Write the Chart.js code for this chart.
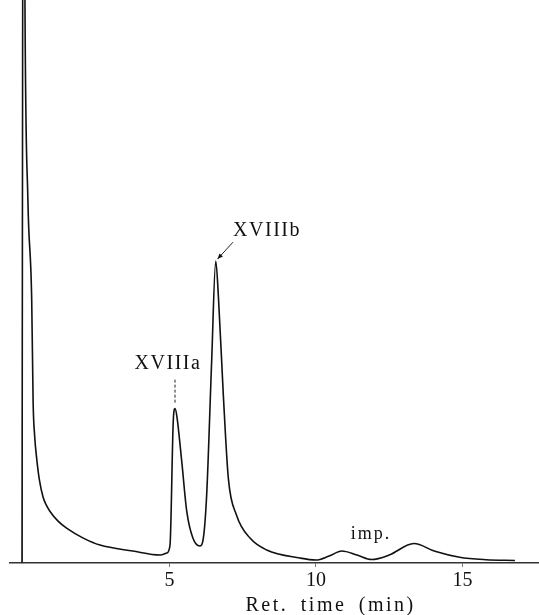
<!DOCTYPE html>
<html>
<head>
<meta charset="utf-8">
<script src="https://cdn.jsdelivr.net/npm/chart.js@4/dist/chart.umd.min.js"></script>
<style>
  body { margin: 0; background: #fff; }
  #wrap { width: 539px; height: 615px; }
</style>
</head>
<body>
<div id="wrap"><canvas id="myChart"></canvas></div>
<script>
// retention time (min) and detector signal
const retTime = [-0.03, 0.02, 0.07, 0.17, 0.30, 0.35, 0.40, 0.47, 0.56, 0.69, 0.80, 0.92, 1.20, 1.49, 2.06, 2.63, 3.75, 4.68,
  4.91, 5.02, 5.13, 5.19, 5.25, 5.42, 5.59, 5.80, 6.04, 6.14, 6.27, 6.44, 6.58, 6.67, 6.84,
  7.01, 7.29, 7.75, 8.32, 9.45, 10.0, 10.45, 10.88, 11.4, 11.9, 12.5, 13.34, 14.06, 14.9, 15.8, 16.79];
const signal = [0, 1000, 565, 365, 265, 160, 128, 105, 84, 66, 58, 52, 42, 35, 25, 18, 12, 8,
  10, 18, 142, 155, 148, 102, 52, 25, 17, 22, 68, 202, 303, 268, 168,
  85, 48, 25, 13, 5, 3, 7, 12, 8, 3.5, 8, 19.5, 11.7, 5.7, 3.3, 2.5];
const tickValues = [5, 10, 15];

// peak labels
const peakNames = ["XVIIIa", "XVIIIb", "imp."];
const peakNameTimes = [4.95, 8.33, 11.88];
const peakNameLevels = [200, 333, 29];

const points = retTime.map((t, i) => ({ x: t, y: signal[i] }));

const labelPlugin = {
  id: "chromLabels",
  afterDraw(chart) {
    const { ctx } = chart;
    const x = chart.scales.x;
    const y = chart.scales.y;
    ctx.save();
    ctx.fillStyle = "#111";
    ctx.textAlign = "center";
    ctx.textBaseline = "middle";
    peakNames.forEach((name, i) => {
      ctx.font = i === 2 ? "18px 'Liberation Serif'" : "20px 'Liberation Serif'";
      ctx.letterSpacing = i === 2 ? "2px" : "1.5px";
      ctx.fillText(name, x.getPixelForValue(peakNameTimes[i]), y.getPixelForValue(peakNameLevels[i]));
    });
    ctx.letterSpacing = "0px";

    // dashed marker above XVIIIa
    ctx.strokeStyle = "#222";
    ctx.lineWidth = 1;
    ctx.setLineDash([3, 2]);
    ctx.beginPath();
    ctx.moveTo(x.getPixelForValue(5.19), y.getPixelForValue(184));
    ctx.lineTo(x.getPixelForValue(5.19), y.getPixelForValue(160));
    ctx.stroke();
    ctx.setLineDash([]);

    // arrow to XVIIIb
    const ax0 = x.getPixelForValue(7.17), ay0 = y.getPixelForValue(322);
    const ax1 = x.getPixelForValue(6.64), ay1 = y.getPixelForValue(305);
    ctx.beginPath();
    ctx.moveTo(ax0, ay0);
    ctx.lineTo(ax1, ay1);
    ctx.stroke();
    const ang = Math.atan2(ay1 - ay0, ax1 - ax0);
    ctx.beginPath();
    ctx.moveTo(ax1, ay1);
    ctx.lineTo(ax1 - 6 * Math.cos(ang - 0.4), ay1 - 6 * Math.sin(ang - 0.4));
    ctx.lineTo(ax1 - 6 * Math.cos(ang + 0.4), ay1 - 6 * Math.sin(ang + 0.4));
    ctx.closePath();
    ctx.fill();

    // axis title
    ctx.font = "20px 'Liberation Serif'";
    ctx.letterSpacing = "2.5px";
    ctx.wordSpacing = "5px";
    ctx.fillText("Ret. time (min)", x.getPixelForValue(10.5), chart.height - 9);
    ctx.restore();
  },
};

new Chart("myChart", {
  type: "line",
  data: {
    datasets: [
      {
        data: points,
        borderColor: "#111",
        borderWidth: 1.6,
        pointRadius: 0,
        cubicInterpolationMode: "monotone",
        fill: false,
      },
    ],
  },
  options: {
    responsive: true,
    maintainAspectRatio: false,
    animation: false,
    layout: {
      padding: { left: 10, right: 0, top: 0, bottom: 20 },
    },
    plugins: {
      legend: { display: false },
      tooltip: { enabled: false },
    },
    scales: {
      x: {
        type: "linear",
        min: -0.44,
        max: 17.61,
        afterBuildTicks: (axis) => {
          axis.ticks = tickValues.map((v) => ({ value: v }));
        },
        grid: {
          drawOnChartArea: false,
          tickLength: 4,
          color: "#777",
        },
        border: { color: "#333", width: 1.5 },
        ticks: {
          padding: 2,
          color: "#111",
          font: { family: "'Liberation Serif'", size: 20 },
        },
      },
      y: {
        type: "linear",
        min: 0,
        max: 565,
        position: { x: 0 },
        grid: { display: false },
        border: { color: "#888", width: 1, dash: [4, 2] },
        ticks: { display: false },
      },
    },
  },
  plugins: [labelPlugin],
});
</script>
</body>
</html>
